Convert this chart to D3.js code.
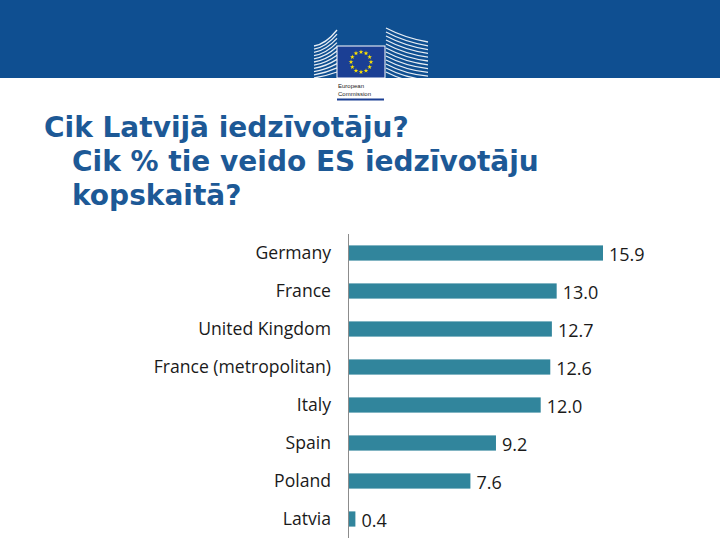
<!DOCTYPE html>
<html><head><meta charset="utf-8">
<script src="https://cdn.jsdelivr.net/npm/d3@7"></script>
<style>body{margin:0;background:#fff}svg{display:block}</style>
</head><body>
<script>
const categories = ["Germany","France","United Kingdom","France (metropolitan)","Italy","Spain","Poland","Latvia"];
const values = [15.9,13.0,12.7,12.6,12.0,9.2,7.6,0.4];
const titleLines = ["Cik Latvijā iedzīvotāju?","Cik % tie veido ES iedzīvotāju","kopskaitā?"];

const W=720,H=540;
const svg=d3.select("body").append("svg").attr("width",W).attr("height",H);

// header band
svg.append("rect").attr("x",0).attr("y",0).attr("width",W).attr("height",78).attr("fill","#0f4f91");
// logo: building stripes
const logo=svg.append("g");
for(let i=0;i<11;i++){
  const y=44+i*3.2;
  logo.append("path").attr("d",`M${314} ${y+2} Q 326 ${y} ${337} ${y-14+i*1.0}`).attr("stroke","#fff").attr("stroke-width",1.3).attr("fill","none").attr("opacity",0.9);
}
for(let i=0;i<12;i++){
  const y=28+i*4;
  logo.append("path").attr("d",`M${386} ${y} Q 405 ${y+10} ${428} ${y+14-i*0.2}`).attr("stroke","#fff").attr("stroke-width",1.3).attr("fill","none").attr("opacity",0.9);
}
logo.append("rect").attr("x",337).attr("y",46).attr("width",48).attr("height",32).attr("fill","#1b3f94").attr("stroke","#fff").attr("stroke-width",1);
for(let k=0;k<12;k++){
  const a=k/12*2*Math.PI;
  logo.append("path").attr("d",d3.symbol(d3.symbolStar,7)()).attr("transform",`translate(${361+10*Math.sin(a)},${62-10*Math.cos(a)})`).attr("fill","#ffe400");
}
logo.append("text").attr("x",338).attr("y",88).attr("font-family","Liberation Sans, Arial").attr("font-size",6).attr("fill","#222").text("European");
logo.append("text").attr("x",338).attr("y",96).attr("font-family","Liberation Sans, Arial").attr("font-size",6).attr("fill","#222").text("Commission");
logo.append("rect").attr("x",337).attr("y",98.5).attr("width",47).attr("height",2).attr("fill","#1b3f94");

// title
const tx=[44,72,72], ty=[137,171,205];
titleLines.forEach((t,i)=>{
  svg.append("text").attr("x",tx[i]).attr("y",ty[i]).attr("font-family","DejaVu Sans, Verdana, sans-serif")
    .attr("font-weight","bold").attr("font-size",28).attr("fill","#1d5996").text(t);
});

// chart
const x0=349;
const x=d3.scaleLinear().domain([0,15.9]).range([x0,603]);
const y=d3.scaleBand().domain(categories).range([234,538]).paddingInner(0.6).paddingOuter(0.3);
const g=svg.append("g");
g.selectAll("rect.bar").data(values).join("rect").attr("class","bar")
  .attr("x",x0).attr("y",(d,i)=>y(categories[i])).attr("width",d=>x(d)-x0).attr("height",y.bandwidth()).attr("fill","#31859c");
g.append("line").attr("x1",348.5).attr("x2",348.5).attr("y1",234).attr("y2",538).attr("stroke","#8c8c8c").attr("stroke-width",1);
g.selectAll("text.cat").data(categories).join("text").attr("class","cat")
  .attr("x",331).attr("y",d=>y(d)+y.bandwidth()/2).attr("dy","0.35em").attr("text-anchor","end")
  .attr("font-family","Open Sans, sans-serif").attr("font-size",17.6).attr("fill","#1a1a1a").text(d=>d);
g.selectAll("text.val").data(values).join("text").attr("class","val")
  .attr("x",d=>x(d)+6).attr("y",(d,i)=>y(categories[i])+y.bandwidth()/2+2).attr("dy","0.35em")
  .attr("font-family","Open Sans, sans-serif").attr("font-size",18).attr("fill","#1a1a1a").text(d=>d.toFixed(1));
</script>
</body></html>
